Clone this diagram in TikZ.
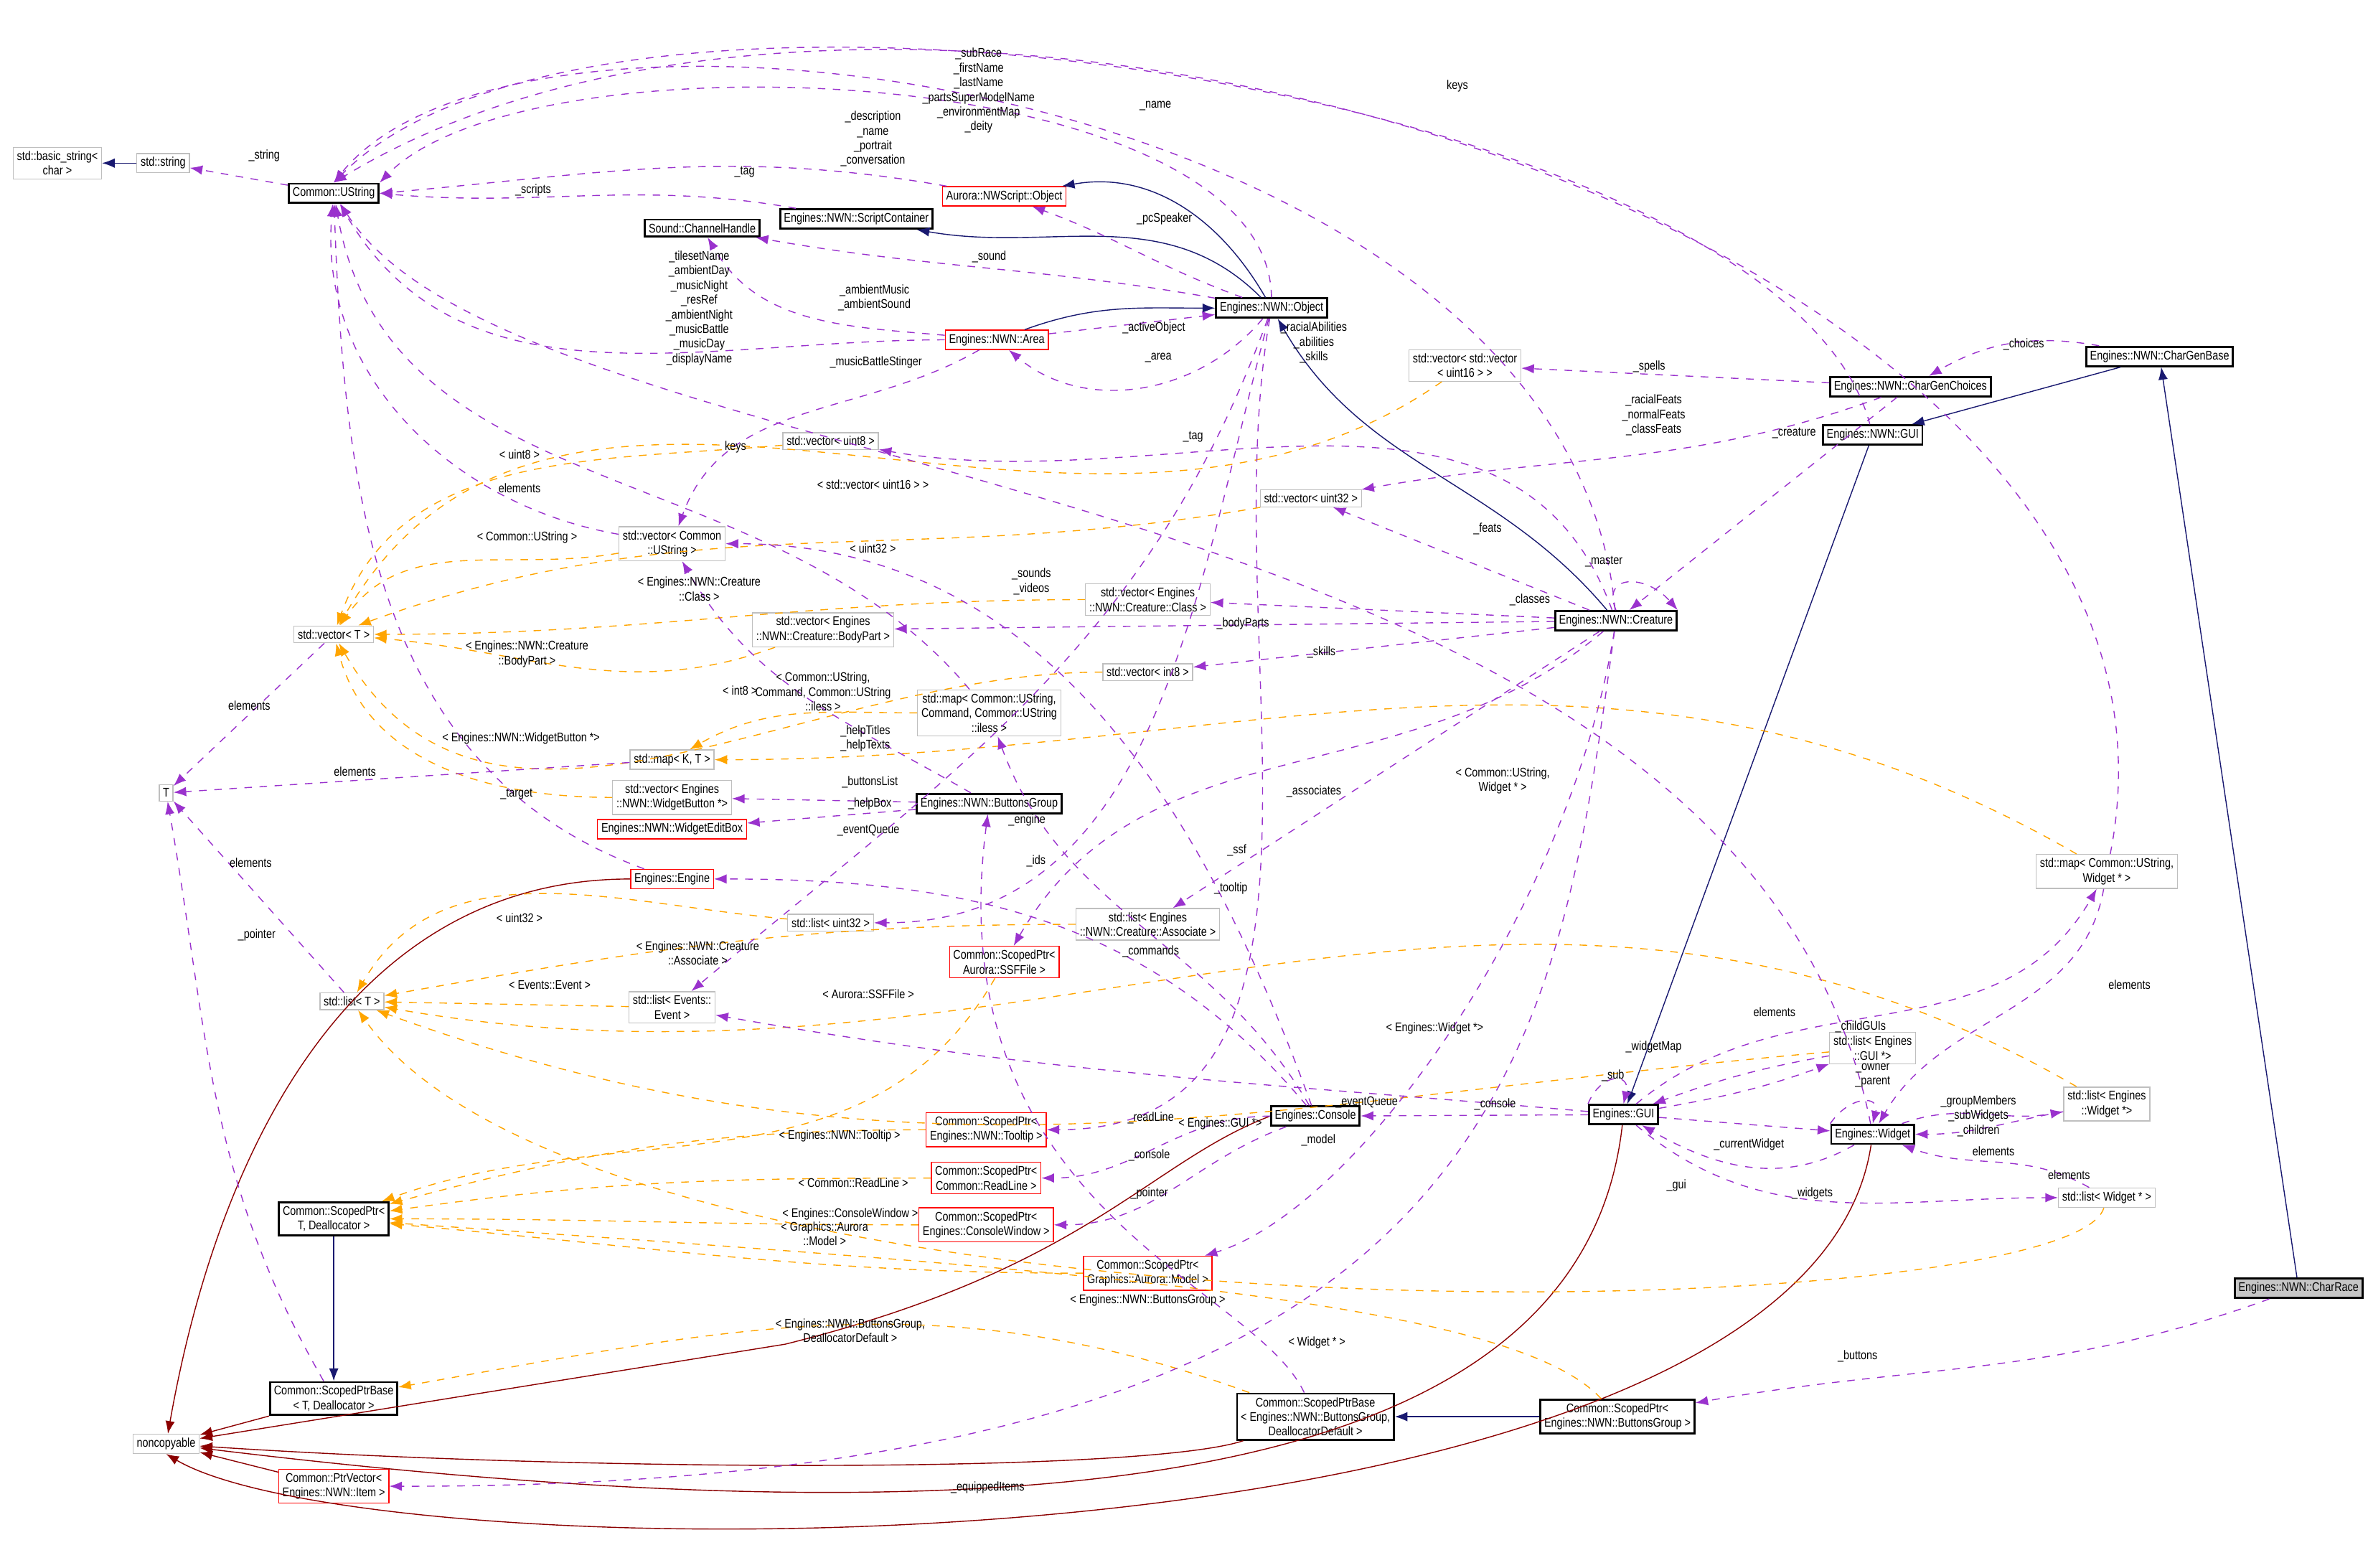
\documentclass[tikz,border=0pt]{standalone}
\usepackage{fontspec}
\setmainfont{Liberation Sans}[FakeStretch=0.82]
\usepackage{tikz}
\usetikzlibrary{arrows.meta}
\definecolor{inhblue}{RGB}{25,25,112}
\definecolor{usepurple}{RGB}{154,50,205}
\definecolor{tmplorange}{RGB}{255,165,0}
\definecolor{privred}{RGB}{139,0,0}
\definecolor{boxgray}{RGB}{191,191,191}

\tikzset{
  cls/.style={draw=black, thick, fill=white, inner sep=1.5pt, minimum height=0.22cm, align=center, font=\fontsize{5}{5.8}\selectfont},
  ext/.style={cls, draw=boxgray, thin},
  undoc/.style={cls, draw=red, thin},
  self/.style={cls, fill=gray!45},
  lbl/.style={font=\fontsize{5}{5.8}\selectfont, align=center, inner sep=0pt},
  inh/.style={draw=inhblue, thin, -{Latex[length=5pt]}},
  usee/.style={draw=usepurple, thin, dashed, -{Latex[length=5pt]}},
  tmpl/.style={draw=tmplorange, thin, dashed, -{Latex[length=5pt]}},
  priv/.style={draw=privred, thin, -{Latex[length=5pt]}}
}

\begin{document}
\begin{tikzpicture}[x=0.021046cm, y=-0.021046cm]
  \useasboundingbox (0,0) rectangle (1568,1038);

  % classes
  \node[ext] (bstr) at (38,108) {std::basic\_string<\\char >};
  \node[ext] (sstr) at (108,108) {std::string};
  \node[cls] (ustr) at (221,128) {Common::UString};
  \node[cls] (scont) at (567,145) {Engines::NWN::ScriptContainer};
  \node[undoc] (nwso) at (665,130) {Aurora::NWScript::Object};
  \node[cls] (chan) at (465,151) {Sound::ChannelHandle};
  \node[cls] (obj) at (842,204) {Engines::NWN::Object};
  \node[undoc] (area) at (660,225) {Engines::NWN::Area};
  \node[ext] (vv16) at (970,242) {std::vector< std::vector\\< uint16 > >};
  \node[cls] (cgch) at (1265,256) {Engines::NWN::CharGenChoices};
  \node[cls] (cgbase) at (1430,236) {Engines::NWN::CharGenBase};
  \node[cls] (ngui) at (1240,288) {Engines::NWN::GUI};
  \node[ext] (vu8) at (550,292) {std::vector< uint8 >};
  \node[ext] (vu32) at (868,330) {std::vector< uint32 >};
  \node[ext] (vustr) at (445,360) {std::vector< Common\\::UString >};
  \node[ext] (vecT) at (221,420) {std::vector< T >};
  \node[ext] (vcls) at (760,397) {std::vector< Engines\\::NWN::Creature::Class >};
  \node[ext] (vbody) at (545,417) {std::vector< Engines\\::NWN::Creature::BodyPart >};
  \node[cls] (crea) at (1070,411) {Engines::NWN::Creature};
  \node[ext] (vi8) at (760,445) {std::vector< int8 >};
  \node[ext] (mcmd) at (655,472) {std::map< Common::UString,\\Command, Common::UString\\::iless >};
  \node[ext] (mapKT) at (445,503) {std::map< K, T >};
  \node[ext] (T) at (110,525) {T};
  \node[ext] (vbtn) at (445,528) {std::vector< Engines\\::NWN::WidgetButton *>};
  \node[cls] (bgrp) at (655,532) {Engines::NWN::ButtonsGroup};
  \node[undoc] (wedit) at (445,549) {Engines::NWN::WidgetEditBox};
  \node[undoc] (eng) at (445,582) {Engines::Engine};
  \node[ext] (lu32) at (550,611) {std::list< uint32 >};
  \node[ext] (mwid) at (1395,577) {std::map< Common::UString,\\Widget * >};
  \node[ext] (lassoc) at (760,612) {std::list< Engines\\::NWN::Creature::Associate >};
  \node[undoc] (pssf) at (665,637) {Common::ScopedPtr<\\Aurora::SSFFile >};
  \node[ext] (listT) at (233,663) {std::list< T >};
  \node[ext] (levt) at (445,667) {std::list< Events::\\Event >};
  \node[ext] (lgui) at (1240,694) {std::list< Engines\\::GUI *>};
  \node[cls] (cons) at (871,739) {Engines::Console};
  \node[cls] (gui) at (1075,738) {Engines::GUI};
  \node[cls] (wid) at (1240,751) {Engines::Widget};
  \node[ext] (lewid) at (1395,731) {std::list< Engines\\::Widget *>};
  \node[undoc] (ptip) at (653,748) {Common::ScopedPtr<\\Engines::NWN::Tooltip >};
  \node[undoc] (prl) at (653,780) {Common::ScopedPtr<\\Common::ReadLine >};
  \node[ext] (lwid) at (1395,793) {std::list< Widget * >};
  \node[cls] (sptr) at (221,807) {Common::ScopedPtr<\\T, Deallocator >};
  \node[undoc] (pcw) at (653,811) {Common::ScopedPtr<\\Engines::ConsoleWindow >};
  \node[undoc] (pmod) at (760,843) {Common::ScopedPtr<\\Graphics::Aurora::Model >};
  \node[self] (race) at (1522,853) {Engines::NWN::CharRace};
  \node[cls] (spb) at (221,926) {Common::ScopedPtrBase\\< T, Deallocator >};
  \node[cls] (spbbg) at (871,938) {Common::ScopedPtrBase\\< Engines::NWN::ButtonsGroup,\\DeallocatorDefault >};
  \node[cls] (spbg) at (1071,938) {Common::ScopedPtr<\\Engines::NWN::ButtonsGroup >};
  \node[ext] (nonc) at (110,956) {noncopyable};
  \node[undoc] (pvec) at (221,984) {Common::PtrVector<\\Engines::NWN::Item >};

  % inheritance
  \draw[inh] (sstr) -- (bstr);
  \draw[inh] (obj) to[out=120,in=10] (nwso);
  \draw[inh] (obj) to[out=135,in=-10] (scont);
  \draw[inh] (area) to[out=20,in=180] (obj);
  \draw[inh] (crea) to[out=130,in=-60] (obj);
  \draw[inh] (cgbase) -- (ngui);
  \draw[inh] (ngui) -- (gui);
  \draw[inh] (race) -- (cgbase);
  \draw[inh] (sptr) -- (spb);
  \draw[inh] (spbg) -- (spbbg);

  % noncopyable
  \draw[priv] (eng) to[out=180,in=80] (nonc);
  \draw[priv] (spb) -- (nonc);
  \draw[priv] (spbbg) .. controls (760,975) and (400,975) .. (nonc);
  \draw[priv] (pvec) -- (nonc);
  \draw[priv] (cons.west) .. controls (760,770) and (720,840) .. (520,890) -- (nonc);
  \draw[priv] (gui) .. controls (1050,960) and (760,1035) .. (nonc);
  \draw[priv] (wid) .. controls (1195,1050) and (250,1045) .. (nonc.south);

  % templates
  \draw[tmpl] (vu8) to[out=185,in=70] (vecT);
  \draw[tmpl] (vv16) to[out=-145,in=60] (vecT);
  \draw[tmpl] (vustr) to[out=190,in=55] (vecT);
  \draw[tmpl] (vu32) to[out=190,in=20] (vecT);
  \draw[tmpl] (vcls) to[out=180,in=0] (vecT);
  \draw[tmpl] (vbody) to[out=-160,in=-5] (vecT);
  \draw[tmpl] (vi8) to[out=180,in=-60] (vecT);
  \draw[tmpl] (vbtn) to[out=180,in=-75] (vecT);
  \draw[tmpl] (mcmd) to[out=180,in=30] (mapKT);
  \draw[tmpl] (mwid) to[out=150,in=0] (mapKT);
  \draw[tmpl] (lu32) to[out=175,in=60] (listT);
  \draw[tmpl] (lassoc) to[out=180,in=10] (listT);
  \draw[tmpl] (levt) -- (listT);
  \draw[tmpl] (lgui) to[out=185,in=-20] (listT);
  \draw[tmpl] (lewid) to[out=150,in=-10] (listT);
  \draw[tmpl] (lwid) .. controls (1370,880) and (400,900) .. (listT);
  \draw[tmpl] (pssf) to[out=-120,in=20] (sptr);
  \draw[tmpl] (ptip) to[out=180,in=15] (sptr);
  \draw[tmpl] (prl) to[out=180,in=8] (sptr);
  \draw[tmpl] (pcw) to[out=180,in=0] (sptr);
  \draw[tmpl] (pmod) to[out=180,in=-5] (sptr);
  \draw[tmpl] (spbg) .. controls (1000,860) and (700,840) .. (sptr);
  \draw[tmpl] (spbbg) to[out=160,in=10] (spb);

  % usage
  \draw[usee] (ustr) -- (sstr);
  \draw[usee] (crea) .. controls (1040,60) and (350,-40) .. (ustr.north);
  \draw[usee] (ngui) .. controls (1180,60) and (400,-60) .. (ustr.north);
  \draw[usee] (mwid) .. controls (1480,150) and (600,-110) .. (ustr.north);
  \draw[usee] (obj) .. controls (840,40) and (350,20) .. (ustr.north east);
  \draw[usee] (nwso) to[out=170,in=5] (ustr.east);
  \draw[usee] (scont) to[out=170,in=-5] (ustr.east);
  \draw[usee] (area) to[out=180,in=-60] (ustr);
  \draw[usee] (area) to[out=175,in=-60] (chan);
  \draw[usee] (obj) to[out=170,in=-10] (chan);
  \draw[usee] (obj) to[out=160,in=-20] (nwso);
  \draw[usee] (area) -- (obj);
  \draw[usee] (obj) to[out=-130,in=-40] (area);
  \draw[usee] (area) to[out=-150,in=70] (vustr);
  \draw[usee] (wid) .. controls (1150,300) and (350,330) .. (ustr);
  \draw[usee] (mcmd) to[out=130,in=-80] (ustr);
  \draw[usee] (vustr) to[out=170,in=-95] (ustr);
  \draw[usee] (eng) to[out=160,in=-88] (ustr);
  \draw[usee] (crea) to[out=110,in=-10] (vu8);
  \draw[usee] (cgch) -- (vv16);
  \draw[usee] (cgch) to[out=-160,in=10] (vu32);
  \draw[usee] (crea) -- (vu32);
  \draw[usee] (cgch) -- (crea);
  \draw[usee] (cgbase) to[out=170,in=30] (cgch);
  \draw[usee] (crea) -- (vcls);
  \draw[usee] (crea) -- (vbody);
  \draw[usee] (crea) -- (vi8);
  \draw[usee] (crea.north) .. controls (1060,380) and (1090,380) .. (crea.north east);
  \draw[usee] (crea) -- (lassoc);
  \draw[usee] (crea) .. controls (1030,700) and (1000,985) .. (pvec);
  \draw[usee] (crea) .. controls (1040,600) and (900,800) .. (pmod);
  \draw[usee] (cons) to[out=110,in=0] (vustr);
  \draw[usee] (bgrp) to[out=150,in=-60] (vustr);
  \draw[usee] (bgrp) -- (vbtn);
  \draw[usee] (bgrp) -- (wedit);
  \draw[usee] (cons) to[out=130,in=0] (eng);
  \draw[usee] (obj) to[out=-110,in=40] (levt);
  \draw[usee] (obj) to[out=-105,in=0] (lu32);
  \draw[usee] (crea) to[out=-140,in=60] (pssf);
  \draw[usee] (obj) to[out=-100,in=0] (ptip);
  \draw[usee] (cons) to[out=120,in=-70] (mcmd);
  \draw[usee] (cons) to[out=180,in=0] (prl);
  \draw[usee] (cons) to[out=200,in=0] (pcw);
  \draw[usee] (spbbg) .. controls (830,850) and (620,800) .. (bgrp);
  \draw[usee] (spb) to[out=120,in=-80] (T);
  \draw[usee] (vecT) -- (T);
  \draw[usee] (mapKT) -- (T);
  \draw[usee] (listT) -- (T);
  \draw[usee] (gui) -- (cons);
  \draw[usee] (gui) to[out=40,in=-120] (mwid);
  \draw[usee] (gui.north west) .. controls (1060,710) and (1080,710) .. (gui.north);
  \draw[usee] (lgui) to[out=190,in=20] (gui);
  \draw[usee] (gui) to[out=10,in=-160] (lgui);
  \draw[usee] (gui) -- (wid);
  \draw[usee] (wid) to[out=-150,in=-30] (gui);
  \draw[usee] (gui) to[out=-40,in=180] (lwid);
  \draw[usee] (mwid) to[out=-100,in=60] (wid);
  \draw[usee] (lewid) to[out=-170,in=0] (wid);
  \draw[usee] (lwid) to[out=150,in=-20] (wid);
  \draw[usee] (wid) to[out=20,in=-170] (lewid);
  \draw[usee] (wid.north west) .. controls (1225,725) and (1245,725) .. (wid.north);
  \draw[usee] (race) to[out=-160,in=10] (spbg);
  \draw[usee] (gui) to[out=175,in=-10] (levt);

  % edge labels
  \node[lbl] at (175,103) {\_string};
  \node[lbl] at (648,60) {\_subRace\\\_firstName\\\_lastName\\\_partsSuperModelName\\\_environmentMap\\\_deity};
  \node[lbl] at (765,70) {\_name};
  \node[lbl] at (965,57) {keys};
  \node[lbl] at (578,92) {\_description\\\_name\\\_portrait\\\_conversation};
  \node[lbl] at (493,114) {\_tag};
  \node[lbl] at (353,126) {\_scripts};
  \node[lbl] at (463,204) {\_tilesetName\\\_ambientDay\\\_musicNight\\\_resRef\\\_ambientNight\\\_musicBattle\\\_musicDay\\\_displayName};
  \node[lbl] at (579,197) {\_ambientMusic\\\_ambientSound};
  \node[lbl] at (655,170) {\_sound};
  \node[lbl] at (771,145) {\_pcSpeaker};
  \node[lbl] at (764,217) {\_activeObject};
  \node[lbl] at (767,237) {\_area};
  \node[lbl] at (870,227) {\_racialAbilities\\\_abilities\\\_skills};
  \node[lbl] at (580,240) {\_musicBattleStinger};
  \node[lbl] at (1092,243) {\_spells};
  \node[lbl] at (1095,275) {\_racialFeats\\\_normalFeats\\\_classFeats};
  \node[lbl] at (1188,287) {\_creature};
  \node[lbl] at (1340,228) {\_choices};
  \node[lbl] at (790,289) {\_tag};
  \node[lbl] at (487,296) {keys};
  \node[lbl] at (344,301) {< uint8 >};
  \node[lbl] at (578,321) {< std::vector< uint16 > >};
  \node[lbl] at (344,323) {elements};
  \node[lbl] at (349,356) {< Common::UString >};
  \node[lbl] at (578,363) {< uint32 >};
  \node[lbl] at (985,350) {\_feats};
  \node[lbl] at (683,385) {\_sounds\\\_videos};
  \node[lbl] at (463,390) {< Engines::NWN::Creature\\::Class >};
  \node[lbl] at (1013,397) {\_classes};
  \node[lbl] at (1062,372) {\_master};
  \node[lbl] at (349,433) {< Engines::NWN::Creature\\::BodyPart >};
  \node[lbl] at (823,413) {\_bodyParts};
  \node[lbl] at (875,432) {\_skills};
  \node[lbl] at (490,457) {< int8 >};
  \node[lbl] at (545,458) {< Common::UString,\\Command, Common::UString\\::iless >};
  \node[lbl] at (165,467) {elements};
  \node[lbl] at (573,489) {\_helpTitles\\\_helpTexts};
  \node[lbl] at (345,489) {< Engines::NWN::WidgetButton *>};
  \node[lbl] at (235,511) {elements};
  \node[lbl] at (576,518) {\_buttonsList};
  \node[lbl] at (576,532) {\_helpBox};
  \node[lbl] at (342,526) {\_target};
  \node[lbl] at (680,543) {\_engine};
  \node[lbl] at (575,550) {\_eventQueue};
  \node[lbl] at (686,570) {\_ids};
  \node[lbl] at (819,563) {\_ssf};
  \node[lbl] at (870,524) {\_associates};
  \node[lbl] at (995,517) {< Common::UString,\\Widget * >};
  \node[lbl] at (815,588) {\_tooltip};
  \node[lbl] at (166,571) {elements};
  \node[lbl] at (344,608) {< uint32 >};
  \node[lbl] at (462,631) {< Engines::NWN::Creature\\::Associate >};
  \node[lbl] at (762,630) {\_commands};
  \node[lbl] at (1095,693) {\_widgetMap};
  \node[lbl] at (1232,680) {\_childGUIs};
  \node[lbl] at (1175,670) {elements};
  \node[lbl] at (170,619) {\_pointer};
  \node[lbl] at (364,652) {< Events::Event >};
  \node[lbl] at (575,658) {< Aurora::SSFFile >};
  \node[lbl] at (950,681) {< Engines::Widget *>};
  \node[lbl] at (1068,712) {\_sub};
  \node[lbl] at (1410,652) {elements};
  \node[lbl] at (905,730) {\_eventQueue};
  \node[lbl] at (808,744) {< Engines::GUI *>};
  \node[lbl] at (990,731) {\_console};
  \node[lbl] at (1240,712) {\_owner\\\_parent};
  \node[lbl] at (1310,739) {\_groupMembers\\\_subWidgets\\\_children};
  \node[lbl] at (1320,762) {elements};
  \node[lbl] at (1370,778) {elements};
  \node[lbl] at (1158,758) {\_currentWidget};
  \node[lbl] at (1110,785) {\_gui};
  \node[lbl] at (1200,790) {\_widgets};
  \node[lbl] at (556,752) {< Engines::NWN::Tooltip >};
  \node[lbl] at (762,740) {\_readLine};
  \node[lbl] at (565,783) {< Common::ReadLine >};
  \node[lbl] at (761,765) {\_console};
  \node[lbl] at (873,755) {\_model};
  \node[lbl] at (761,790) {\_pointer};
  \node[lbl] at (563,804) {< Engines::ConsoleWindow >};
  \node[lbl] at (546,817) {< Graphics::Aurora\\::Model >};
  \node[lbl] at (760,861) {< Engines::NWN::ButtonsGroup >};
  \node[lbl] at (872,889) {< Widget * >};
  \node[lbl] at (563,881) {< Engines::NWN::ButtonsGroup,\\DeallocatorDefault >};
  \node[lbl] at (1230,898) {\_buttons};
  \node[lbl] at (654,985) {\_equippedItems};
\end{tikzpicture}
\end{document}
